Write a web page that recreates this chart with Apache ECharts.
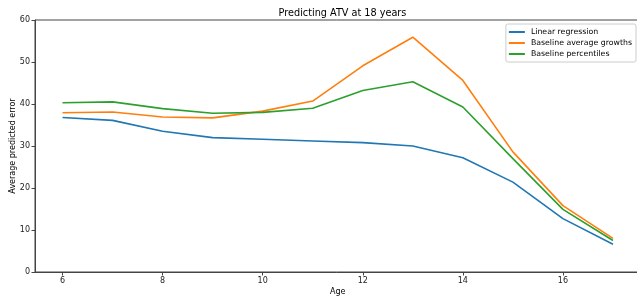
<!DOCTYPE html>
<html><head><meta charset="utf-8">
<script src="https://cdn.jsdelivr.net/npm/echarts@6/dist/echarts.min.js"></script>
<style>html,body{margin:0;padding:0;background:#fff}#c{width:637px;height:299px}</style>
</head><body><div id="c"></div>
<script>
const ages = [6,7,8,9,10,11,12,13,14,15,16,17];
const linearRegression = [36.8,36.1,33.5,32.0,31.6,31.2,30.8,30.0,27.2,21.4,12.7,6.6];
const baselineGrowths = [37.9,38.1,36.9,36.7,38.3,40.7,49.1,55.9,45.6,28.6,15.8,8.0];
const baselinePercentiles = [40.3,40.5,38.9,37.8,38.0,39.0,43.2,45.3,39.3,27.0,14.9,7.5];
const xTicks = [6,8,10,12,14,16];
const yTicks = [0,10,20,30,40,50,60];

const font = 'DejaVu Sans';
const pair = arr => ages.map((a,i)=>[a,arr[i]]);
const chart = echarts.init(document.getElementById('c'), null, {renderer:'canvas'});
const mk = (name, data, color) => ({
  name, type:'line', data:pair(data), showSymbol:false, symbol:'none',
  lineStyle:{color, width:1.6}, itemStyle:{color}, animation:false
});
chart.setOption({
  animation:false,
  title:{text:'Predicting ATV at 18 years', left:337.5, textAlign:'center', top:3,
    textStyle:{fontFamily:font, fontSize:9.7, fontWeight:'normal', color:'#000'}},
  grid:{left:35, top:20, bottom:27, right:-3.5, show:true, borderColor:'#444', borderWidth:1,
    containLabel:false, outerBoundsMode:'none'},
  legend:{orient:'vertical', right:1, top:24, icon:'rect', itemWidth:16, itemHeight:2, itemGap:3,
    borderColor:'#ccc', borderWidth:1, borderRadius:2, padding:[4,4,4,3],
    textStyle:{fontFamily:font, fontSize:7.8, color:'#000', padding:[0,0,0,1]},
    data:['Linear regression','Baseline average growths','Baseline percentiles']},
  xAxis:{type:'value', min:5.45, max:17.55, name:'Age', nameLocation:'middle', nameGap:16, nameMoveOverlap:false,
    nameTextStyle:{fontFamily:font, fontSize:8, color:'#000'},
    splitLine:{show:false},
    axisLine:{show:true, onZero:false, lineStyle:{color:'#444', width:1}},
    axisTick:{show:true, length:3.5, customValues:xTicks, lineStyle:{color:'#444'}},
    axisLabel:{customValues:xTicks, fontFamily:font, fontSize:8, color:'#222', margin:5}},
  yAxis:{type:'value', min:0, max:60, interval:10, name:'Average predicted error', nameLocation:'middle', nameGap:18, nameMoveOverlap:false,
    nameTextStyle:{fontFamily:font, fontSize:8, color:'#000'},
    splitLine:{show:false},
    axisLine:{show:true, lineStyle:{color:'#444', width:1}},
    axisTick:{show:true, length:3.5, lineStyle:{color:'#444'}},
    axisLabel:{fontFamily:font, fontSize:8, color:'#222', margin:5}},
  series:[
    mk('Linear regression', linearRegression, '#1f77b4'),
    mk('Baseline average growths', baselineGrowths, '#ff7f0e'),
    mk('Baseline percentiles', baselinePercentiles, '#2ca02c')
  ]
});
</script></body></html>
